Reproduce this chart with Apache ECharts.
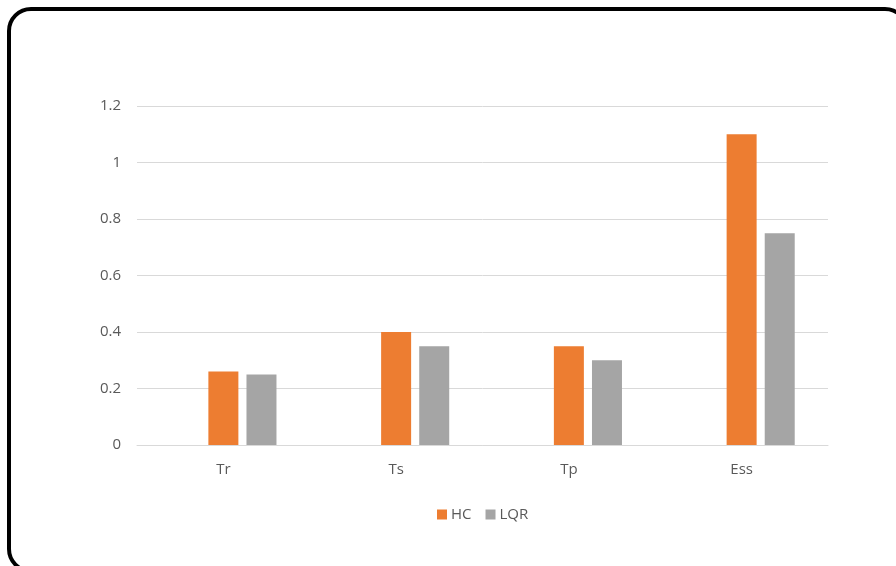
<!DOCTYPE html>
<html>
<head>
<meta charset="utf-8">
<script src="https://cdn.jsdelivr.net/npm/echarts@6/dist/echarts.min.js"></script>
<style>
html,body{margin:0;padding:0;background:#fff;overflow:hidden;}
#frame{position:absolute;left:7px;top:7px;width:902px;height:566px;border:4px solid #000;border-radius:24px;box-sizing:border-box;}
#chart{position:absolute;left:0;top:0;width:896px;height:566px;}
</style>
</head>
<body>
<div id="frame"></div>
<div id="chart"></div>
<script>
const categories = ['Tr', 'Ts', 'Tp', 'Ess'];
const hcValues = [0.26, 0.40, 0.35, 1.10];
const lqrValues = [0.25, 0.35, 0.30, 0.75];
const emptyValues = ['-', '-', '-', '-'];
const yTicks = [0, 0.2, 0.4, 0.6, 0.8, 1, 1.2];

const chart = echarts.init(document.getElementById('chart'));
const fontFam = '"Open Sans", "Liberation Sans", sans-serif';
chart.setOption({
  animation: false,
  backgroundColor: 'transparent',
  grid: {left: 137, right: 68, top: 106, bottom: 121, containLabel: false},
  legend: {
    data: ['HC', 'LQR'],
    left: 432,
    top: 502,
    itemWidth: 10,
    itemHeight: 10,
    itemGap: 14,
    icon: 'rect',
    textStyle: {color: '#595959', fontSize: 15, fontFamily: fontFam, padding: [0, 0, 0, -1]}
  },
  xAxis: {
    type: 'category',
    data: categories,
    axisLine: {lineStyle: {color: '#d9d9d9', width: 1}},
    axisTick: {show: false},
    axisLabel: {color: '#595959', fontSize: 15, fontFamily: fontFam, margin: 17}
  },
  yAxis: {
    type: 'value',
    min: yTicks[0],
    max: yTicks[yTicks.length - 1],
    interval: 0.2,
    axisLine: {show: false},
    axisTick: {show: false},
    splitLine: {lineStyle: {color: '#d9d9d9', width: 1}},
    axisLabel: {
      color: '#595959', fontSize: 15, fontFamily: fontFam, margin: 16,
      formatter: v => String(Math.round(v * 10) / 10)
    }
  },
  series: [
    {name: 'blank', type: 'bar', data: emptyValues, barWidth: 30, barGap: '27%', barCategoryGap: '38%', itemStyle: {color: 'transparent'}},
    {name: 'HC', type: 'bar', data: hcValues, barWidth: 30, barGap: '27%', itemStyle: {color: '#ed7d31'}},
    {name: 'LQR', type: 'bar', data: lqrValues, barWidth: 30, barGap: '27%', itemStyle: {color: '#a5a5a5'}}
  ]
});
</script>
</body>
</html>
